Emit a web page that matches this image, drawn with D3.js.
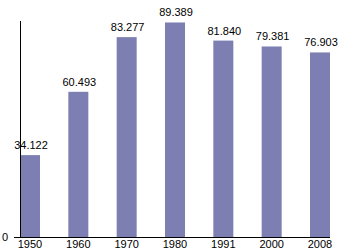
<!DOCTYPE html>
<html>
<head>
<meta charset="utf-8">
<script src="https://cdn.jsdelivr.net/npm/d3@7"></script>
<style>
  body { margin: 0; background: #fff; }
  text { font-family: "Liberation Sans", Arial, sans-serif; font-size: 11px; fill: #000; }
</style>
</head>
<body>
<div class="chart"></div>
<script>
// chart data
var years = ['1950', '1960', '1970', '1980', '1991', '2000', '2008']
  , values = [34.122, 60.493, 83.277, 89.389, 81.840, 79.381, 76.903]
  , labels = ['34.122', '60.493', '83.277', '89.389', '81.840', '79.381', '76.903']
  , yTicks = [0];

// layout (note: "top" is taken by window.top, so plotTop)
var w = 350
  , h = 250
  , plotLeft = 20
  , plotRight = 330
  , plotTop = 21
  , base = 237;

var svg = d3.select('.chart')
            .append('svg')
            .attr('width', w)
            .attr('height', h);

var x = d3.scaleBand()
          .domain(years)
          .range([plotLeft, plotRight])
          .paddingInner(0.586)
          .paddingOuter(0);

var y = d3.scaleLinear()
          .domain([0, 90])
          .range([base, plotTop]);

svg.selectAll('rect.bar')
    .data(values)
    .enter()
    .append('rect')
    .attr('class', 'bar')
    .attr('x', function (d, i) { return x(years[i]); })
    .attr('y', function (d) { return y(d); })
    .attr('width', x.bandwidth())
    .attr('height', function (d) { return base - y(d); })
    .attr('fill', '#7d7fb2');

svg.selectAll('text.val')
    .data(values)
    .enter()
    .append('text')
    .attr('class', 'val')
    .attr('x', function (d, i) { return x(years[i]) + x.bandwidth() / 2 + 1; })
    .attr('y', function (d) { return y(d) - 6; })
    .attr('text-anchor', 'middle')
    .text(function (d, i) { return labels[i]; });

// axes
svg.append('line')
    .attr('x1', plotLeft + 0.5).attr('x2', plotLeft + 0.5)
    .attr('y1', plotTop).attr('y2', base)
    .attr('stroke', '#000').attr('stroke-width', 1);

svg.append('line')
    .attr('x1', 14).attr('x2', plotRight)
    .attr('y1', base + 0.5).attr('y2', base + 0.5)
    .attr('stroke', '#000').attr('stroke-width', 1);

svg.selectAll('text.year')
    .data(years)
    .enter()
    .append('text')
    .attr('class', 'year')
    .attr('x', function (d) { return x(d) + x.bandwidth() / 2; })
    .attr('y', 248)
    .attr('text-anchor', 'middle')
    .text(function (d) { return d; });

svg.selectAll('text.ytick')
    .data(yTicks)
    .enter()
    .append('text')
    .attr('class', 'ytick')
    .attr('x', 2)
    .attr('y', function (d) { return y(d) + 4; })
    .text(function (d) { return d; });
</script>
</body>
</html>
